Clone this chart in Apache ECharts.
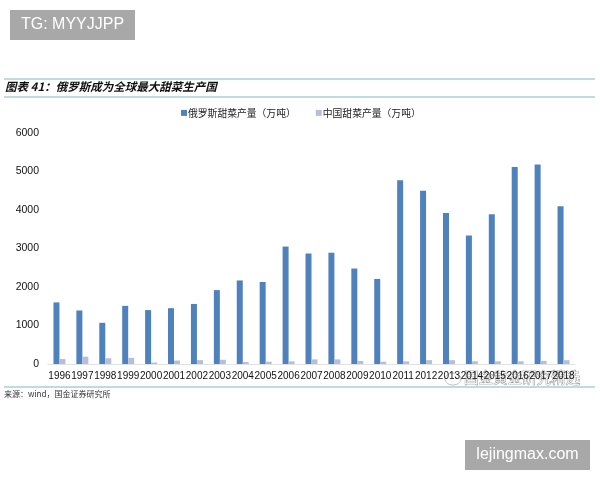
<!DOCTYPE html>
<html lang="zh">
<head>
    <meta charset="UTF-8">
    <title>图表41</title>
    <style>
        html, body, #chart { width: 600px; height: 480px; margin: 0; padding: 0; background: #fff; }
    </style>
</head>
<body>
    <div id="chart"></div>
    <script src="https://cdn.jsdelivr.net/npm/echarts@6/dist/echarts.min.js"></script>
    <script>
        var years = ['1996', '1997', '1998', '1999', '2000', '2001', '2002', '2003', '2004', '2005', '2006', '2007',
            '2008', '2009', '2010', '2011', '2012', '2013', '2014', '2015', '2016', '2017', '2018'];
        var russia = [1600, 1390, 1070, 1510, 1400, 1450, 1560, 1920, 2170, 2130, 3050, 2870,
            2890, 2480, 2210, 4770, 4500, 3920, 3340, 3890, 5120, 5180, 4100];
        var china = [130, 190, 150, 160, 40, 90, 100, 110, 50, 60, 70, 120,
            120, 80, 60, 70, 100, 100, 70, 70, 70, 80, 100];
        var russiaName = '俄罗斯甜菜产量（万吨）';
        var chinaName = '中国甜菜产量（万吨）';
        var cjk = '"Noto Sans CJK SC", sans-serif';
        var latin = '"Liberation Sans", sans-serif';
        var ruleColor = '#a9cfd6';

        function rule(y) {
            return { type: 'line', shape: { x1: 4, y1: y, x2: 595, y2: y }, style: { stroke: ruleColor, lineWidth: 1.5 } };
        }
        function badge(x, y, w, h, label) {
            return [
                { type: 'rect', shape: { x: x, y: y, width: w, height: h }, style: { fill: '#a8a8a8' } },
                { type: 'text', x: x + w / 2, y: y + h / 2, style: { text: label, fill: '#fff', font: '16px ' + latin, align: 'center', verticalAlign: 'middle' } }
            ];
        }

        var chart = echarts.init(document.getElementById('chart'));
        chart.setOption({
            animation: false,
            legend: {
                top: 103,
                left: 176,
                itemWidth: 6,
                itemHeight: 6,
                itemGap: 20,
                icon: 'rect',
                textStyle: { fontFamily: cjk, fontSize: 9.8, color: '#222', padding: [0, 0, 0, -4] },
                data: [russiaName, chinaName]
            },
            grid: { left: 48, right: 25, top: 133, bottom: 116 },
            xAxis: {
                type: 'category',
                data: years,
                axisTick: { show: false },
                axisLine: { lineStyle: { color: '#e2e2e2' } },
                axisLabel: { interval: 0, color: '#111', fontFamily: latin, fontSize: 10, margin: 7, hideOverlap: false }
            },
            yAxis: {
                type: 'value',
                min: 0,
                max: 6000,
                interval: 1000,
                axisLine: { show: false },
                axisTick: { show: false },
                splitLine: { show: false },
                axisLabel: {
                    color: '#111',
                    fontFamily: latin,
                    fontSize: 10.5,
                    margin: 9,
                    formatter: function(value) {
                        return String(value);
                    }
                }
            },
            series: [
                { name: russiaName, type: 'bar', data: russia, barWidth: 6, barGap: '0%', itemStyle: { color: '#4f81bd' } },
                { name: chinaName, type: 'bar', data: china, barWidth: 6, barGap: '0%', itemStyle: { color: '#b7bfd8' } }
            ],
            graphic: [
                rule(79), rule(97), rule(387)
            ].concat(badge(10, 10, 125, 30, 'TG: MYYJJPP'), badge(465, 440, 125, 30, 'lejingmax.com'), [
                { type: 'text', x: 5, y: 81, style: { text: '图表 41：俄罗斯成为全球最大甜菜生产国', fill: '#111', font: 'italic bold 11.5px ' + cjk } },
                { type: 'text', x: 4, y: 390, style: { text: '来源：wind，国金证券研究所', fill: '#333', font: '8px ' + cjk } },
                { type: 'ellipse', shape: { cx: 453, cy: 379, rx: 8, ry: 6 }, style: { fill: '#fff', stroke: '#bbb', lineWidth: 1 } },
                { type: 'text', x: 464, y: 370, style: { text: '国金黄金研究精选', fill: 'rgba(255,255,255,0.85)', stroke: '#777', lineWidth: 0.7, font: '14.5px ' + cjk } }
            ])
        });
    </script>
</body>
</html>
